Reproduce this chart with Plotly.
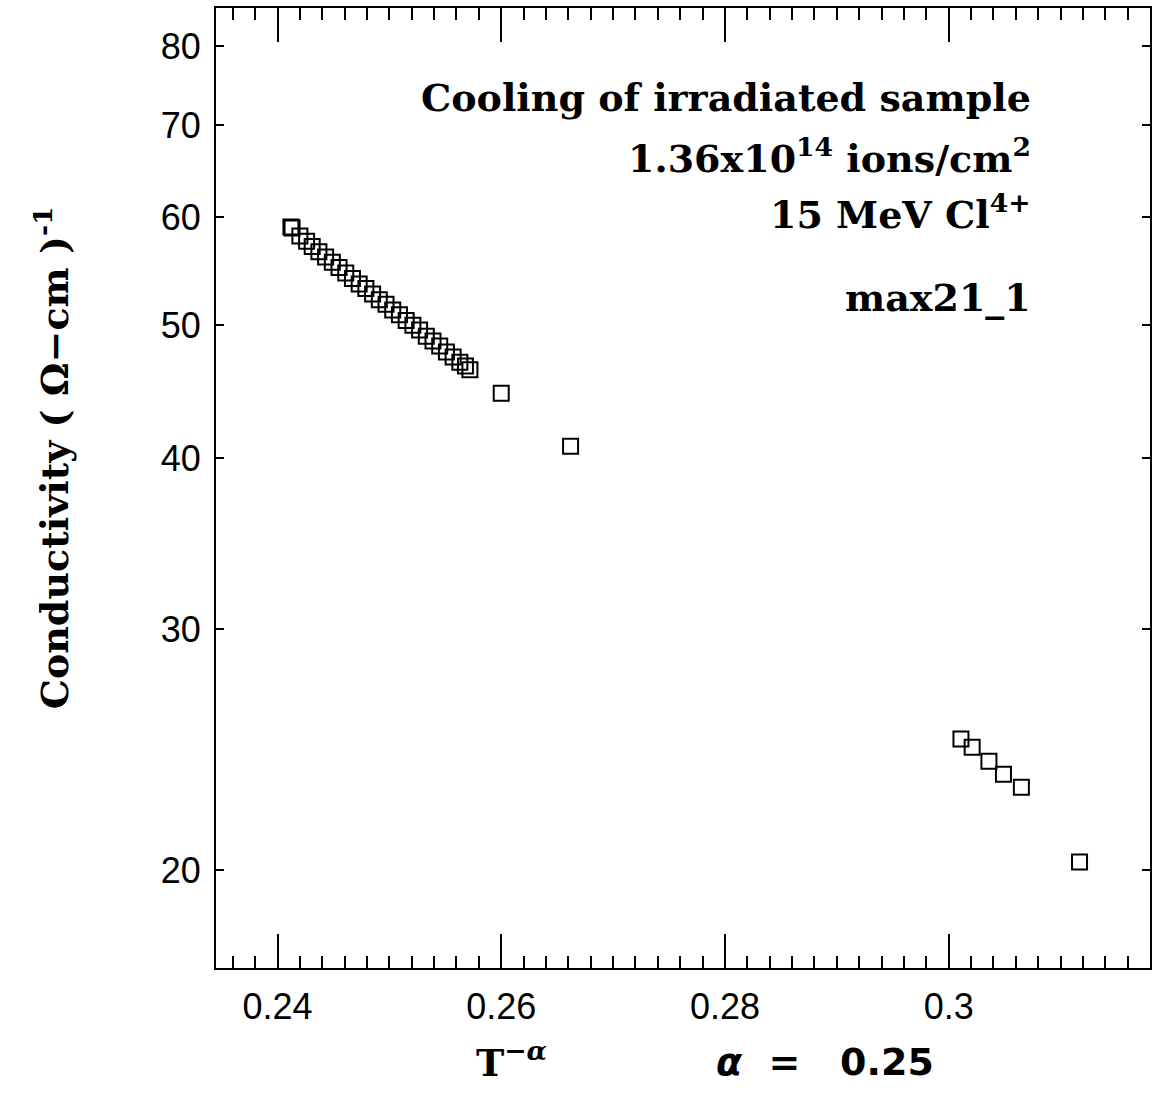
import plotly.graph_objects as go

# Cluster 1 (dense chain) + isolated points + cluster 2
x_main = [0.2412, 0.2413, 0.2420, 0.2426, 0.2431, 0.2437, 0.2443, 0.2449, 0.2455,
          0.2461, 0.2467, 0.2473, 0.2479, 0.2485, 0.2491, 0.2497, 0.2503, 0.2509,
          0.2515, 0.2521, 0.2527, 0.2533, 0.2539, 0.2545, 0.2551, 0.2557, 0.2563,
          0.2568, 0.2572]
y_main = [59.0, 58.9, 58.1, 57.6, 57.1, 56.6, 56.1, 55.6, 55.1,
          54.6, 54.1, 53.6, 53.2, 52.7, 52.2, 51.8, 51.3, 50.9,
          50.4, 50.0, 49.6, 49.1, 48.7, 48.3, 47.8, 47.4, 47.0,
          46.7, 46.4]
x_iso = [0.2600, 0.2662]
y_iso = [44.6, 40.8]
x_low = [0.3011, 0.3021, 0.3036, 0.3049, 0.3065, 0.3117]
y_low = [24.93, 24.59, 24.02, 23.50, 22.99, 20.27]

x_ticks = [0.24, 0.26, 0.28, 0.30]
x_ticktext = ["0.24", "0.26", "0.28", "0.3"]
y_ticks = [20, 30, 40, 50, 60, 70, 80]

fig = go.Figure()
for xs, ys in [(x_main, y_main), (x_iso, y_iso), (x_low, y_low)]:
    fig.add_trace(go.Scatter(
        x=xs, y=ys, mode="markers", showlegend=False,
        marker=dict(symbol="square-open", size=15, color="black",
                    line=dict(width=2, color="black")),
    ))

tickfont = dict(family="Liberation Sans", size=36, color="black")
serif = "DejaVu Serif"

fig.update_layout(
    width=1152, height=1100,
    margin=dict(l=216, r=0, t=8, b=132),
    paper_bgcolor="white", plot_bgcolor="white",
    xaxis=dict(
        range=[0.2345, 0.318], tickvals=x_ticks, ticktext=x_ticktext,
        ticks="inside", ticklen=34, tickwidth=1.5, tickcolor="black",
        minor=dict(dtick=0.002, tick0=0.24, ticks="inside", ticklen=12,
                   tickwidth=1.5, tickcolor="black"),
        showline=True, linewidth=2, linecolor="black", mirror="ticks",
        showgrid=False, zeroline=False, tickfont=tickfont,
        ticklabelstandoff=6,
    ),
    yaxis=dict(
        type="log", range=[1.2295, 1.9308], tickvals=y_ticks,
        ticktext=[str(v) for v in y_ticks],
        ticks="inside", ticklen=8, tickwidth=1.5, tickcolor="black",
        showline=True, linewidth=2, linecolor="black", mirror="ticks",
        showgrid=False, zeroline=False, tickfont=tickfont,
        ticklabelstandoff=6,
    ),
)

annots = [
    dict(text="<b>Cooling of irradiated sample</b>", x=1035, y=97),
    dict(text="<b>1.36x10<sup>14</sup> ions/cm<sup>2</sup></b>", x=1035, y=156),
    dict(text="<b>15 MeV Cl<sup>4+</sup></b>", x=1035, y=212),
    dict(text="<b>max21_1</b>", x=1035, y=297),
]
for a in annots:
    fig.add_annotation(
        text=a["text"], xref="paper", yref="paper",
        x=(a["x"] - 216) / (1152 - 216), y=1 - (a["y"] - 8) / (968 - 8),
        xanchor="right", yanchor="middle", showarrow=False,
        font=dict(family=serif, size=38, color="black"),
    )

# y-axis title (rotated)
fig.add_annotation(
    text="<b>Conductivity ( Ω−cm )<sup>-1</sup></b>",
    xref="paper", yref="paper",
    x=(52 - 216) / (1152 - 216), y=1 - (458 - 8) / (968 - 8),
    xanchor="center", yanchor="middle", textangle=-90, showarrow=False,
    font=dict(family=serif, size=38, color="black"),
)
# x-axis title
fig.add_annotation(
    text="<b>T<sup>−<i>α</i></sup></b>",
    xref="paper", yref="paper",
    x=(512 - 216) / (1152 - 216), y=1 - (1060 - 8) / (968 - 8),
    xanchor="center", yanchor="middle", showarrow=False,
    font=dict(family=serif, size=38, color="black"),
)
fig.add_annotation(
    text="<b><i>α</i>  =   0.25</b>",
    xref="paper", yref="paper",
    x=(826 - 216) / (1152 - 216), y=1 - (1062 - 8) / (968 - 8),
    xanchor="center", yanchor="middle", showarrow=False,
    font=dict(family="DejaVu Sans", size=38, color="black"),
)

fig.write_html("out.html")
